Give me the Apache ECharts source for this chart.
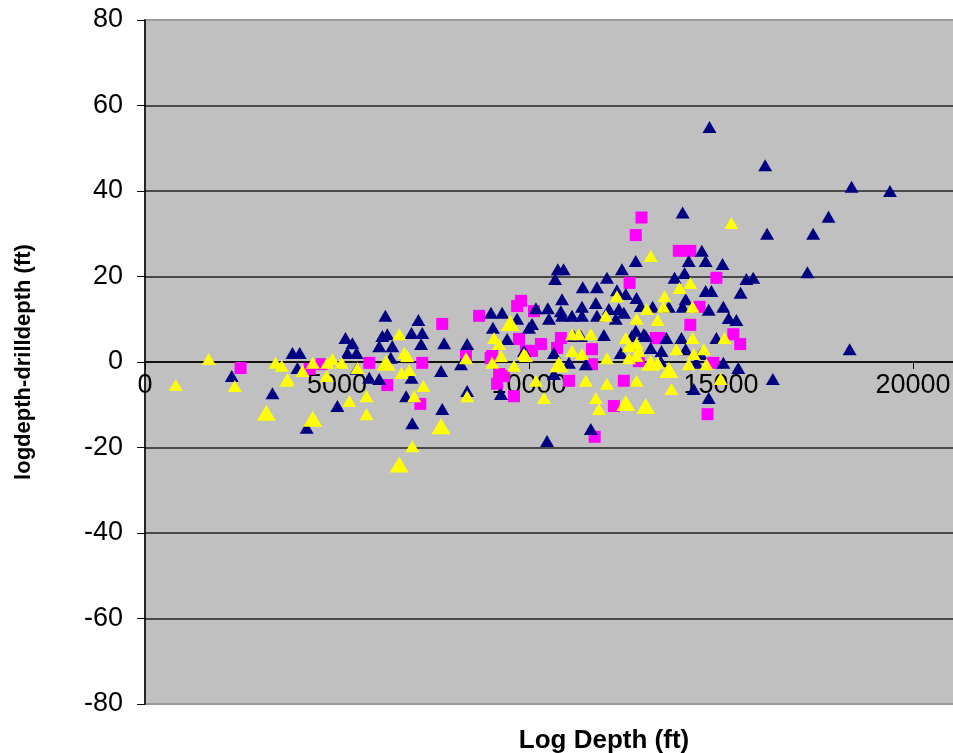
<!DOCTYPE html>
<html>
<head>
<meta charset="utf-8">
<script src="https://cdn.jsdelivr.net/npm/echarts@6/dist/echarts.min.js"></script>
<style>
  html, body { margin: 0; padding: 0; background: #fff; }
  #chart { width: 953px; height: 753px; }
</style>
</head>
<body>
<div id="chart"></div>
<script>
// [log depth, logdepth - drilldepth]
var navyPoints = [
    [16150, 46], [18400, 41], [19400, 40], [17800, 34], [16200, 30], [17400, 30], [17250, 21], [18350, 3], [16350, -4], [14700, 55],
    [14000, 35], [14500, 26], [14160, 23.6], [14600, 23.6], [15040, 22.9], [13790, 19.7], [14050, 20.8], [15660, 19.4], [15840, 19.7],
    [15510, 16.2], [14600, 16.6], [14750, 16.6], [14080, 14.7], [13640, 12.9], [14000, 12.9], [14680, 12.2], [15060, 12.9], [15200, 10.3],
    [15400, 9.8], [13580, 5.6], [14880, 5.6], [14080, 3.0], [14470, 1.9], [13430, 0.2], [14360, -0.2], [15060, -0.2], [15450, -1.4],
    [14680, -8.4], [14290, -6.3],
    [10750, 21.7], [10900, 21.7], [10680, 19.4], [12420, 21.7], [12780, 23.6], [12030, 19.7], [11400, 17.5], [11770, 17.5], [12290, 16.8],
    [12520, 15.9], [12800, 15.0], [10860, 14.7], [10180, 12.6], [10490, 12.6], [10830, 11.9], [11380, 12.9], [11740, 13.8], [12080, 12.4],
    [12340, 12.4], [12470, 11.5], [12910, 13.1], [13220, 12.9], [10520, 10.1], [11120, 10.8], [10860, 10.8], [11380, 10.8], [11770, 10.8],
    [12260, 10.1], [10080, 8.9], [11950, 6.3], [12990, 6.5], [12780, 7.3], [13170, 3.3], [12390, 2.1], [10650, 2.1], [11040, -0.2],
    [11480, -0.5], [10470, -18.5], [11610, -15.7], [10650, -2.8], [12680, 6.1], [13040, 6.1], [13450, 2.6], [13970, 5.6], [11170, 6.1], [11350, 6.1],
    [7120, 9.8], [6940, 6.8], [7220, 6.8], [7190, 4.2], [7790, 4.4], [8390, 4.2], [8230, -0.5], [7710, -2.1], [9010, 11.5], [9300, 11.5],
    [9060, 8.0], [9430, 5.4], [9690, 10.1], [10000, 8.0], [9870, 2.6], [8390, -6.8], [6940, -3.7], [7740, -11], [6960, -14.3], [9270, -7.5],
    [6260, 10.8], [5220, 5.6], [5400, 4.4], [5510, 2.1], [5270, 2.1], [6180, 6.1], [6310, 6.5], [6100, 3.7], [6440, 3.7], [3840, 2.1],
    [4030, 2.1], [3970, -1.4], [5510, -1.6], [5840, -3.7], [6100, -4], [6800, -8], [5010, -10.3], [4210, -15.4], [6400, 1],
    [2260, -3.3], [3320, -7.3]
];

var yellowPoints = [
    [15270, 32.5], [13170, 24.8], [14200, 18.5], [13920, 17.3], [13530, 15.4], [13500, 12.9], [14260, 12.9], [13350, 9.8], [14260, 5.6],
    [15090, 5.6], [13840, 3.0], [14550, 3.0], [14290, 1.9], [13350, -0.2], [14160, -0.5], [14620, -0.5], [13710, -6.3], [14990, -4],
    [12000, 10.8], [12290, 15.4], [12800, 10.1], [13070, 12.4], [11120, 6.5], [11300, 6.5], [11610, 6.5], [12520, 5.6], [12600, 3.7],
    [12800, 4.4], [11120, 2.6], [11380, 1.9], [12030, 0.9], [12600, 0.9], [12800, 1.4], [10180, -4.4], [11480, -4.4], [12030, -5.1],
    [12800, -4.4], [11740, -8.4], [11820, -11], [10390, -8.4], [9870, 1.9], [9220, 4.2], [12860, 2.6],
    [6830, 1.4], [6880, -1.9], [7250, -5.6], [7010, -8], [8360, 0.9], [9090, 5.6], [9270, 1.4], [9040, -0.2], [9610, -0.9], [9920, 1.4],
    [6960, -19.7], [8390, -8],
    [3560, -0.9], [3710, -4], [4100, -2.1], [4370, -0.2], [4750, -0.2], [4880, 0.7], [5120, -0.2], [5530, -1.4], [4730, -3.3], [5320, -9.1],
    [5770, -8], [5770, -12.2], [6620, 6.5], [6750, 2.1], [6680, -2.6],
    [1660, 0.7], [800, -5.4], [2340, -5.6], [3690, -4.4], [3400, -0.2]
];

var yellowLargePoints = [
    [13640, -1.9], [13170, -0.2], [10780, -0.5], [12520, -9.6], [13040, -10.3], [7710, -15], [9510, 9.1], [4370, -13.3],
    [6280, -0.2], [3160, -11.9], [6620, -24]
];

var magentaPoints = [
    [13900, 26], [14200, 26], [14880, 19.7], [14440, 12.9], [14200, 8.7], [13400, 5.6], [15320, 6.5], [15500, 4.2], [14800, -0.2], [14650, -12.2],
    [12930, 33.8], [12780, 29.7], [12620, 18.5], [10130, 11.9], [10830, 5.6], [10310, 4.2], [10730, 3.3], [10080, 2.6], [11640, 3.0],
    [11640, -0.5], [13300, 5.6], [11040, -4.4], [12470, -4.4], [12210, -10.3], [11710, -17.5], [12860, 0.2],
    [7740, 8.9], [8700, 10.8], [9790, 14.3], [9690, 13.1], [7220, -0.2], [7170, -9.8], [9000, 0.9], [9350, -3.3], [9170, -5.1], [9740, 5.4],
    [9920, 2.6], [9610, -8], [8360, 1.4], [9040, 1.4], [9220, -2.8],
    [5840, -0.2], [6310, -5.4], [4290, -1.6], [4600, -0.5], [2490, -1.4]
];

var xTitle = 'Log Depth (ft)';
var yTitle = 'logdepth-drilldepth (ft)';

var chart = echarts.init(document.getElementById('chart'));

var font = '"Liberation Sans", Arial, sans-serif';

var option = {
    animation: false,
    grid: {
        left: 145,
        top: 20,
        bottom: 49,
        right: -152,
        outerBoundsMode: 'none',
        containLabel: false,
        show: true,
        backgroundColor: '#c0c0c0',
        borderColor: '#999',
        borderWidth: 2
    },
    xAxis: {
        type: 'value',
        min: 0,
        max: 25000,
        interval: 5000,
        offset: -342,
        axisLine: { onZero: false, lineStyle: { color: '#000', width: 1.5 } },
        axisTick: { show: true, length: 7, lineStyle: { color: '#000' } },
        axisLabel: {
            color: '#000', fontSize: 27, fontFamily: font, margin: 10,
            formatter: function (v) { return String(v); }
        },
        splitLine: { show: false }
    },
    yAxis: {
        type: 'value',
        min: -80,
        max: 80,
        interval: 20,
        name: yTitle,
        nameLocation: 'middle',
        nameGap: 110,
        nameTextStyle: { color: '#000', fontSize: 22, fontWeight: 'bold', fontFamily: font },
        axisLine: { show: true, lineStyle: { color: '#000', width: 1.5 } },
        axisTick: { show: true, length: 8, lineStyle: { color: '#000' } },
        axisLabel: { color: '#000', fontSize: 27, fontFamily: font, margin: 22 },
        splitLine: {
            show: true,
            showMinLine: false,
            showMaxLine: false,
            lineStyle: { color: '#222', width: 1.5 }
        }
    },
    graphic: [{
        type: 'text',
        x: 604,
        y: 741,
        style: {
            text: xTitle,
            align: 'center',
            verticalAlign: 'middle',
            fontSize: 26,
            fontWeight: 'bold',
            fontFamily: font,
            fill: '#000'
        }
    }],
    series: [
        {
            name: 'magenta',
            type: 'scatter',
            symbol: 'rect',
            symbolSize: 12,
            itemStyle: { color: '#ff00ff', opacity: 1 },
            data: magentaPoints
        },
        {
            name: 'navy',
            type: 'scatter',
            symbol: 'triangle',
            symbolSize: [14, 12],
            itemStyle: { color: '#000080', opacity: 1 },
            data: navyPoints
        },
        {
            name: 'yellow',
            type: 'scatter',
            symbol: 'triangle',
            symbolSize: [14, 12],
            itemStyle: { color: '#ffff00', opacity: 1 },
            data: yellowPoints
        },
        {
            name: 'yellow large',
            type: 'scatter',
            symbol: 'triangle',
            symbolSize: [19, 16],
            itemStyle: { color: '#ffff00', opacity: 1 },
            data: yellowLargePoints
        }
    ]
};

chart.setOption(option);
</script>
</body>
</html>
